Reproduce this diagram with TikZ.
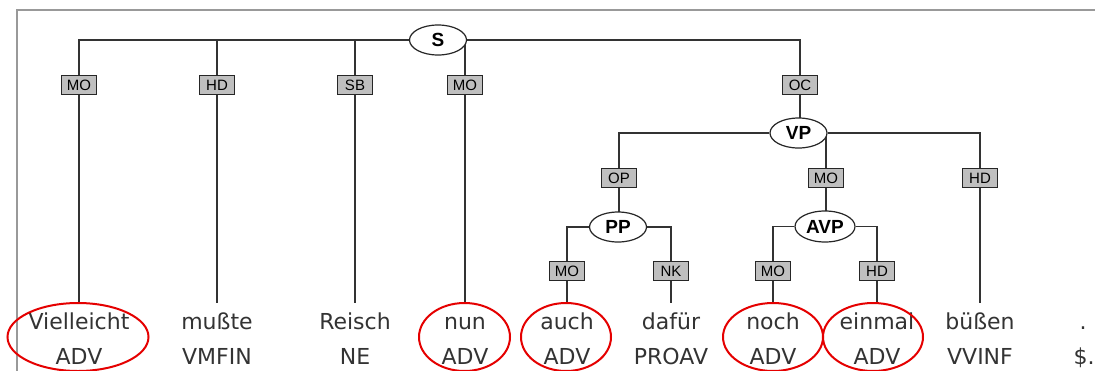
\documentclass[tikz,border=0pt]{standalone}
\usepackage{fontspec}
\setmainfont{DejaVu Sans}
\newfontfamily\labfont{Liberation Sans}
\usetikzlibrary{shapes.geometric,backgrounds}
\begin{document}
\begin{tikzpicture}[x=1pt,y=-1pt,
  cat/.style={ellipse,draw=black!85,line width=1.2pt,fill=white,minimum width=57pt,minimum height=30pt,inner sep=0pt,font=\labfont\bfseries\fontsize{19}{19}\selectfont},
  fn/.style={rectangle,draw=black!85,line width=1.1pt,fill=black!25,minimum width=35pt,minimum height=19pt,inner sep=0pt,font=\labfont\fontsize{15}{15}\selectfont},
  word/.style={anchor=base,font=\fontsize{22}{22}\selectfont,text=black!80,text height=16pt,text depth=0pt,inner xsep=0pt,inner ysep=10pt},
  tag/.style={anchor=base,font=\fontsize{22}{22}\selectfont,text=black!80,inner sep=0pt},
  edge/.style={line width=1.4pt,draw=black!80},
  hilite/.style={ellipse,draw=red!90!black,line width=2pt,inner sep=0pt,minimum height=68pt}
]
\useasboundingbox (0,0) rectangle (1095,370);

% category nodes
\node[cat] (S) at (438,40) {S};
\node[cat] (VP) at (798.5,133) {VP};
\node[cat] (PP) at (618,227) {PP};
\node[cat,minimum width=60pt,minimum height=31pt] (AVP) at (825,226.5) {AVP};

% function labels
\node[fn] (f1) at (79,85) {MO};
\node[fn] (f2) at (217,85) {HD};
\node[fn] (f3) at (355,85) {SB};
\node[fn] (f4) at (465,85) {MO};
\node[fn] (f5) at (800,85) {OC};
\node[fn] (f6) at (619,178) {OP};
\node[fn] (f7) at (826,178) {MO};
\node[fn] (f8) at (980,178) {HD};
\node[fn] (f9) at (567,271) {MO};
\node[fn] (f10) at (671,271) {NK};
\node[fn] (f11) at (773,271) {MO};
\node[fn] (f12) at (877,271) {HD};

% words
\node[word] (w1) at (79,329) {Vielleicht};
\node[word] (w2) at (217,329) {mußte};
\node[word] (w3) at (355,329) {Reisch};
\node[word] (w4) at (465,329) {nun};
\node[word] (w5) at (567,329) {auch};
\node[word] (w6) at (671,329) {dafür};
\node[word] (w7) at (773,329) {noch};
\node[word] (w8) at (877,329) {einmal};
\node[word] (w9) at (980,329) {büßen};
\node[word] (w10) at (1083,329) {.};

% tags
\node[tag] (t1) at (79,364) {ADV};
\node[tag] (t2) at (217,364) {VMFIN};
\node[tag] (t3) at (355,364) {NE};
\node[tag] (t4) at (465,364) {ADV};
\node[tag] (t5) at (567,364) {ADV};
\node[tag] (t6) at (671,364) {PROAV};
\node[tag] (t7) at (773,364) {ADV};
\node[tag] (t8) at (877,364) {ADV};
\node[tag] (t9) at (980,364) {VVINF};
\node[tag] (t10) at (1084,364) {\$.};

% highlight ellipses
\node[hilite,minimum width=141pt] (e1) at (78,337) {};
\node[hilite,minimum width=91pt] (e2) at (464.5,337) {};
\node[hilite,minimum width=90pt] (e3) at (566,337) {};
\node[hilite,minimum width=100pt] (e4) at (773,337) {};
\node[hilite,minimum width=100pt] (e5) at (873,337) {};

\begin{scope}[on background layer]
\fill[white] (0,0) rectangle (1095,370);
\draw[black!40,line width=2pt] (1095,10) -- (17,10) -- (17,372);
\draw[edge] (S.west) -| (f1.north);
\draw[edge] (f1.south) -- (w1.north);
\draw[edge] (f2.north) -- (f2.north |- S.center);
\draw[edge] (f2.south) -- (w2.north);
\draw[edge] (f3.north) -- (f3.north |- S.center);
\draw[edge] (f3.south) -- (w3.north);
\draw[edge] (f4.north) -- (f4.north |- S.center);
\draw[edge] (f4.south) -- (w4.north);
\draw[edge] (S.east) -| (f5.north);
\draw[edge] (f5.south) -- (f5.south |- VP.center);
\draw[edge] (VP.west) -| (f6.north);
\draw[edge] (f6.south) -- (f6.south |- PP.center);
\draw[edge] (f7.north) -- (f7.north |- VP.center);
\draw[edge] (f7.south) -- (f7.south |- AVP.center);
\draw[edge] (VP.east) -| (f8.north);
\draw[edge] (f8.south) -- (w9.north);
\draw[edge] (PP.west) -| (f9.north);
\draw[edge] (f9.south) -- (w5.north);
\draw[edge] (PP.east) -| (f10.north);
\draw[edge] (f10.south) -- (w6.north);
\draw[edge] (AVP.west) -| (f11.north);
\draw[edge] (f11.south) -- (w7.north);
\draw[edge] (AVP.east) -| (f12.north);
\draw[edge] (f12.south) -- (w8.north);
\end{scope}
\end{tikzpicture}
\end{document}
